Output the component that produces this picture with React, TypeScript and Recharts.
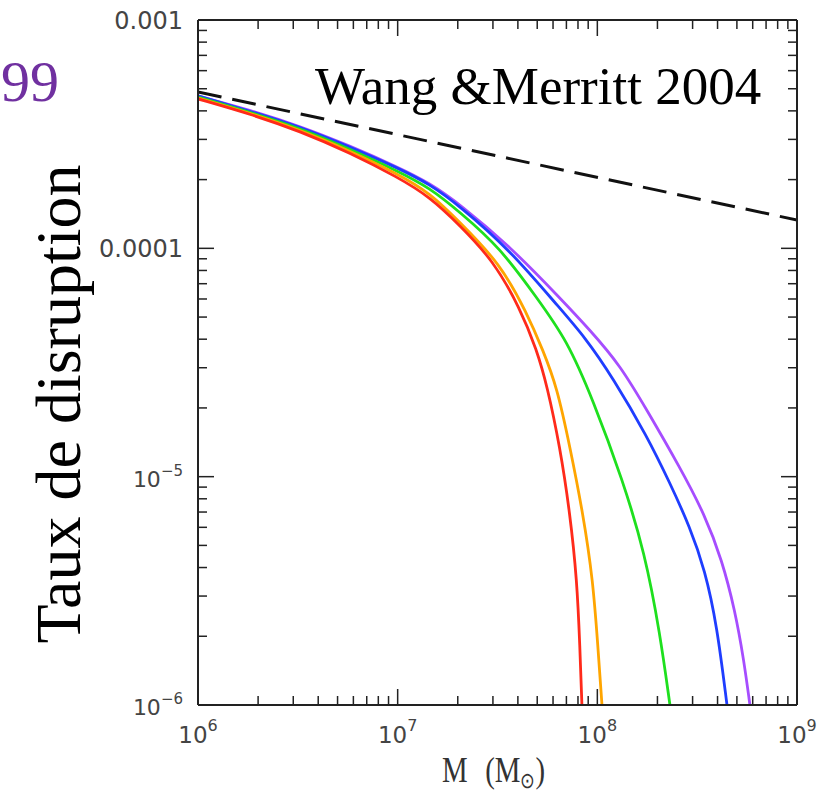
import React from 'react'
import { LineChart, Line, XAxis, YAxis } from 'recharts'

// stellar disruption rate vs black hole mass
const redMass = [1e6, 1.82e6, 3.24e6, 5.77e6, 1.0e7, 1.45e7, 2.05e7, 3.0e7, 4.1e7, 4.98e7, 5.59e7, 6.5e7, 7.29e7, 7.91e7, 8.18e7, 8.37e7]
const redRate = [4.51e-4, 3.88e-4, 3.26e-4, 2.62e-4, 2.05e-4, 1.68e-4, 1.26e-4, 8.89e-5, 5.48e-5, 3.58e-5, 2.52e-5, 1.35e-5, 6.93e-6, 3.52e-6, 1.79e-6, 1e-6]

const orangeMass = [1e6, 1.82e6, 3.24e6, 5.77e6, 1.0e7, 1.45e7, 2.05e7, 3.25e7, 4.44e7, 5.34e7, 6.28e7, 7.29e7, 8.47e7, 9.51e7, 1.007e8, 1.055e8]
const orangeRate = [4.55e-4, 3.91e-4, 3.3e-4, 2.67e-4, 2.12e-4, 1.75e-4, 1.3e-4, 8.62e-5, 5.21e-5, 3.58e-5, 2.47e-5, 1.35e-5, 6.93e-6, 3.52e-6, 1.79e-6, 1e-6]

const greenMass = [1e6, 1.82e6, 3.24e6, 5.77e6, 1.0e7, 1.45e7, 2.05e7, 3.25e7, 4.98e7, 7.04e7, 9.51e7, 1.34e8, 1.73e8, 2.06e8, 2.31e8]
const greenRate = [4.6e-4, 3.95e-4, 3.36e-4, 2.72e-4, 2.18e-4, 1.84e-4, 1.44e-4, 1.01e-4, 6.06e-5, 3.97e-5, 2.17e-5, 9.66e-6, 4.63e-6, 2.06e-6, 1e-6]

const blueMass = [1e6, 1.82e6, 3.24e6, 5.77e6, 1.0e7, 1.45e7, 2.05e7, 3.65e7, 6.28e7, 8.67e7, 1.2e8, 1.77e8, 2.31e8, 2.91e8, 3.46e8, 3.97e8, 4.46e8]
const blueRate = [4.65e-4, 3.99e-4, 3.4e-4, 2.78e-4, 2.25e-4, 1.91e-4, 1.53e-4, 9.83e-5, 5.64e-5, 4.09e-5, 2.7e-5, 1.51e-5, 9.38e-6, 6.01e-6, 3.9e-6, 2.24e-6, 1e-6]

const purpleMass = [1e6, 1.82e6, 3.24e6, 5.77e6, 1.0e7, 1.45e7, 2.05e7, 3.65e7, 6.5e7, 9.18e7, 1.3e8, 1.77e8, 2.59e8, 3.46e8, 4.21e8, 4.89e8, 5.42e8, 5.81e8]
const purpleRate = [4.65e-4, 4.03e-4, 3.43e-4, 2.81e-4, 2.27e-4, 1.93e-4, 1.56e-4, 1.02e-4, 6.06e-5, 4.39e-5, 3.08e-5, 1.96e-5, 1.1e-5, 6.79e-6, 4.31e-6, 2.6e-6, 1.57e-6, 1e-6]

// Wang & Merritt 2004 power law
const wmMass = [1e6, 1e9]
const wmRate = [4.84e-4, 1.33e-4]

const xMajor = [1e6, 1e7, 1e8, 1e9]
const yMajor = [1e-6, 1e-5, 1e-4, 1e-3]
const yPlainLabels: Record<string, string> = { '-3': '0.001', '-4': '0.0001' }

const withMinor = (major: number[]) => {
  const out: number[] = []
  major.forEach((m, i) => {
    out.push(m)
    if (i < major.length - 1) for (let k = 2; k <= 9; k++) out.push(m * k)
  })
  return out
}
const xTicks = withMinor(xMajor)
const yTicks = withMinor(yMajor)

const toPoints = (m: number[], r: number[]) => m.map((v, i) => ({ m: v, r: r[i] }))

const isMajor = (v: number) => {
  const e = Math.round(Math.log10(v))
  return Math.abs(v - Math.pow(10, e)) / v < 1e-6
}

const LABEL_FONT = '"DejaVu Sans", sans-serif'
const SERIF = '"Liberation Serif", "Times New Roman", serif'
const AXIS = '#222'

const XTick = (props: any) => {
  const { x, y, payload, side } = props
  const v = payload.value
  const major = isMajor(v)
  const len = major ? 16 : 9
  const dir = side === 'bottom' ? -1 : 1
  const exp = Math.round(Math.log10(v))
  return (
    <g>
      <line x1={x} y1={y} x2={x} y2={y + dir * len} stroke={AXIS} strokeWidth={1.5} />
      {major && side === 'bottom' && (
        <text x={x} y={y + 38} textAnchor="middle" fontFamily={LABEL_FONT} fontSize={23} fill="#444">
          <tspan>10</tspan>
          <tspan dy={-12} fontSize={16}>{exp}</tspan>
        </text>
      )}
    </g>
  )
}

const YTick = (props: any) => {
  const { x, y, payload, side } = props
  const v = payload.value
  const major = isMajor(v)
  const len = major ? 16 : 9
  const dir = side === 'left' ? 1 : -1
  const exp = Math.round(Math.log10(v))
  const plain = yPlainLabels[String(exp)]
  return (
    <g>
      <line x1={x} y1={y} x2={x + dir * len} y2={y} stroke={AXIS} strokeWidth={1.5} />
      {major && side === 'left' && (
        plain ? (
          <text x={x - 15} y={y + 9} textAnchor="end" fontFamily={LABEL_FONT} fontSize={24} fill="#444">
            {plain}
          </text>
        ) : (
          <text x={x - 15} y={y + 10} textAnchor="end" fontFamily={LABEL_FONT} fontSize={22} fill="#444">
            <tspan>10</tspan>
            <tspan dy={-11} fontSize={15}>{'\u2212' + Math.abs(exp)}</tspan>
          </text>
        )
      )}
    </g>
  )
}

const W = 833
const H = 791

export default function App() {
  const series = [
    { key: 'purple', color: '#a64dff', data: toPoints(purpleMass, purpleRate) },
    { key: 'blue', color: '#1f3dff', data: toPoints(blueMass, blueRate) },
    { key: 'green', color: '#1ee01e', data: toPoints(greenMass, greenRate) },
    { key: 'orange', color: '#ffa500', data: toPoints(orangeMass, orangeRate) },
    { key: 'red', color: '#ff2a1a', data: toPoints(redMass, redRate) },
  ]

  const common = {
    type: 'number' as const,
    scale: 'log' as const,
    allowDataOverflow: true,
    interval: 0 as const,
    tickSize: 0,
    tickMargin: 0,
    tickLine: false,
    axisLine: { stroke: AXIS, strokeWidth: 2 },
  }

  return (
    <div style={{ position: 'absolute', left: 0, top: 0, width: W, height: H, background: '#fff' }}>
      <LineChart width={W} height={H} margin={{ top: 10, left: 78, right: 16, bottom: 26 }}>
        <XAxis
          {...common}
          xAxisId="bottom"
          dataKey="m"
          domain={[1e6, 1e9]}
          ticks={xTicks}
          height={60}
          tick={(p: any) => <XTick {...p} side="bottom" />}
        />
        <XAxis
          {...common}
          xAxisId="top"
          orientation="top"
          dataKey="m"
          domain={[1e6, 1e9]}
          ticks={xTicks}
          height={10}
          tick={(p: any) => <XTick {...p} side="top" />}
        />
        <YAxis
          {...common}
          yAxisId="left"
          domain={[1e-6, 1e-3]}
          ticks={yTicks}
          width={120}
          tick={(p: any) => <YTick {...p} side="left" />}
        />
        <YAxis
          {...common}
          yAxisId="right"
          orientation="right"
          domain={[1e-6, 1e-3]}
          ticks={yTicks}
          width={20}
          tick={(p: any) => <YTick {...p} side="right" />}
        />
        <Line
          xAxisId="bottom"
          yAxisId="left"
          data={toPoints(wmMass, wmRate)}
          dataKey="r"
          type="linear"
          stroke="#111"
          strokeWidth={3}
          strokeDasharray="24 11"
          dot={false}
          isAnimationActive={false}
        />
        {series.map((s) => (
          <Line
            key={s.key}
            xAxisId="bottom"
            yAxisId="left"
            data={s.data}
            dataKey="r"
            type="basis"
            stroke={s.color}
            strokeWidth={2.8}
            dot={false}
            isAnimationActive={false}
          />
        ))}
      </LineChart>
      <svg
        width={W}
        height={H}
        style={{ position: 'absolute', left: 0, top: 0, pointerEvents: 'none' }}
      >
        <text x={1} y={101} fontFamily={SERIF} fontSize={58} fill="#7030a0">
          99
        </text>
        <text x={315} y={104} fontFamily={SERIF} fontSize={53} fill="#000">
          Wang &amp;Merritt 2004
        </text>
        <text
          x={80}
          y={404}
          transform="rotate(-90 80 404)"
          textAnchor="middle"
          fontFamily={SERIF}
          fontSize={64}
          fill="#000"
        >
          Taux de disruption
        </text>
        <text transform="translate(442 782) scale(0.8 1)" fontFamily={SERIF} fontSize={36} fill="#333">
          <tspan x={0}>M</tspan>
          <tspan x={54}>(M</tspan>
          <tspan dy={6} fontSize={22}>{'\u2299'}</tspan>
          <tspan dy={-6}>)</tspan>
        </text>
      </svg>
    </div>
  )
}
